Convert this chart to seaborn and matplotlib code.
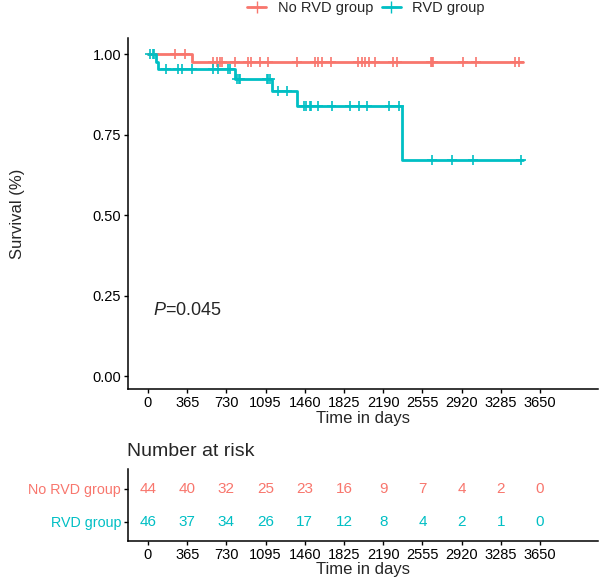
import numpy as np
import pandas as pd
import seaborn as sns
import matplotlib
matplotlib.use("Agg")
from matplotlib import pyplot as plt
from matplotlib.lines import Line2D

# groups and colours
groups = ["No RVD group", "RVD group"]
colors = ["#F8766D", "#00BFC4"]

# Kaplan-Meier steps (time in days, survival after the step)
norvd_step_t = [0, 407]
norvd_step_s = [1.0, 0.976]
norvd_end = 3489
norvd_censor = [251, 344, 605, 642, 670, 689, 810, 931, 956, 1043, 1117, 1387,
                1555, 1583, 1617, 1701, 1955, 1990, 2020, 2058, 2114, 2278,
                2318, 2635, 2643, 2651, 2930, 3054, 3417, 3457]

rvd_step_t = [0, 75, 90, 810, 1155, 1387, 2362]
rvd_step_s = [1.0, 0.977, 0.954, 0.922, 0.885, 0.839, 0.671]
rvd_end = 3490
rvd_censor = [19, 44, 59, 168, 279, 314, 407, 605, 652, 745, 764, 826, 847,
              857, 1105, 1117, 1136, 1210, 1291, 1450, 1475, 1510, 1520, 1580,
              1709, 1881, 1965, 2037, 2248, 2337, 2647, 2833, 3023, 3473]

# number at risk
risk_times = [0, 365, 730, 1095, 1460, 1825, 2190, 2555, 2920, 3285, 3650]
risk_norvd = [44, 40, 32, 25, 23, 16, 9, 7, 4, 2, 0]
risk_rvd = [46, 37, 34, 26, 17, 12, 8, 4, 2, 1, 0]

p_text = "$P$=0.045"

sns.set_theme(style="ticks")
plt.rcParams['font.family'] = ['Liberation Sans', 'DejaVu Sans']
plt.rcParams['mathtext.fontset'] = 'custom'
plt.rcParams['mathtext.rm'] = 'Liberation Sans'
plt.rcParams['mathtext.it'] = 'Liberation Sans:italic'


def step_frame(ts, ss, end, name):
    t = list(ts) + [end]
    s = list(ss) + [ss[-1]]
    return pd.DataFrame({"time": t, "surv": s, "group": name})


def censor_frame(ts, ss, cens, name):
    idx = np.searchsorted(ts, cens, side="right") - 1
    return pd.DataFrame({"time": cens, "surv": np.array(ss)[idx], "group": name})


curves = pd.concat([step_frame(norvd_step_t, norvd_step_s, norvd_end, groups[0]),
                    step_frame(rvd_step_t, rvd_step_s, rvd_end, groups[1])])
cens = pd.concat([censor_frame(norvd_step_t, norvd_step_s, norvd_censor, groups[0]),
                  censor_frame(rvd_step_t, rvd_step_s, rvd_censor, groups[1])])
pal = dict(zip(groups, colors))

W, H = 606, 583
fig = plt.figure(figsize=(W / 100, H / 100), dpi=100)
ax = fig.add_axes([128 / W, 1 - 389 / H, 470 / W, 351 / H])
axt = fig.add_axes([128 / W, 1 - 541 / H, 470 / W, 72 / H])

xlim = (-186, 4190)

for g in groups:
    sub = curves[curves.group == g]
    ax.plot(sub.time, sub.surv, drawstyle="steps-post", color=pal[g], lw=2.0)
sns.scatterplot(data=cens, x="time", y="surv", hue="group", palette=pal,
                marker="+", s=50, linewidth=1.2, legend=False, ax=ax)

ax.set_xlim(*xlim)
ax.set_ylim(-0.04, 1.05)
ax.set_xticks(risk_times)
ax.set_yticks([0, 0.25, 0.5, 0.75, 1.0])
ax.set_yticklabels(["0.00", "0.25", "0.50", "0.75", "1.00"])
ax.set_xlabel("Time in days", fontsize=12, labelpad=0.5)
ax.set_ylabel("Survival (%)", fontsize=12)
ax.yaxis.set_label_coords(-0.22, 0.5)
ax.text(47, 0.205, p_text, fontsize=13, ha="left", va="center")

for a in (ax, axt):
    sns.despine(ax=a)
    for sp in ("left", "bottom"):
        a.spines[sp].set_linewidth(1.1)
        a.spines[sp].set_color("black")
    a.tick_params(axis="both", length=3, width=1.0, color="black",
                  labelsize=10.5, labelcolor="black", pad=2)

# risk table
for row, (vals, col) in enumerate([(risk_rvd, colors[1]), (risk_norvd, colors[0])]):
    for t, v in zip(risk_times, vals):
        axt.text(t, row + 1, str(v), color=col, fontsize=11,
                 ha="center", va="center")
axt.set_xlim(*xlim)
axt.set_ylim(0.42, 2.6)
axt.set_xticks(risk_times)
axt.set_yticks([1, 2])
axt.set_yticklabels([groups[1], groups[0]])
axt.tick_params(axis="y", labelsize=10.3)
for lab, col in zip(axt.get_yticklabels(), [colors[1], colors[0]]):
    lab.set_color(col)
axt.set_xlabel("Time in days", fontsize=12, labelpad=0)
fig.text(127 / W, 1 - 451 / H, "Number at risk", fontsize=14,
         ha="left", va="center")

handles = [Line2D([0], [0], color=c, lw=2.0, marker="+", ms=8) for c in colors]
fig.legend(handles, groups, loc="center", bbox_to_anchor=(366 / W, 1 - 8 / H),
           ncol=2, frameon=False, fontsize=10.5, handlelength=1.3,
           handletextpad=0.8, columnspacing=0.6, borderpad=0.1)

fig.savefig("out.png", dpi=100)
